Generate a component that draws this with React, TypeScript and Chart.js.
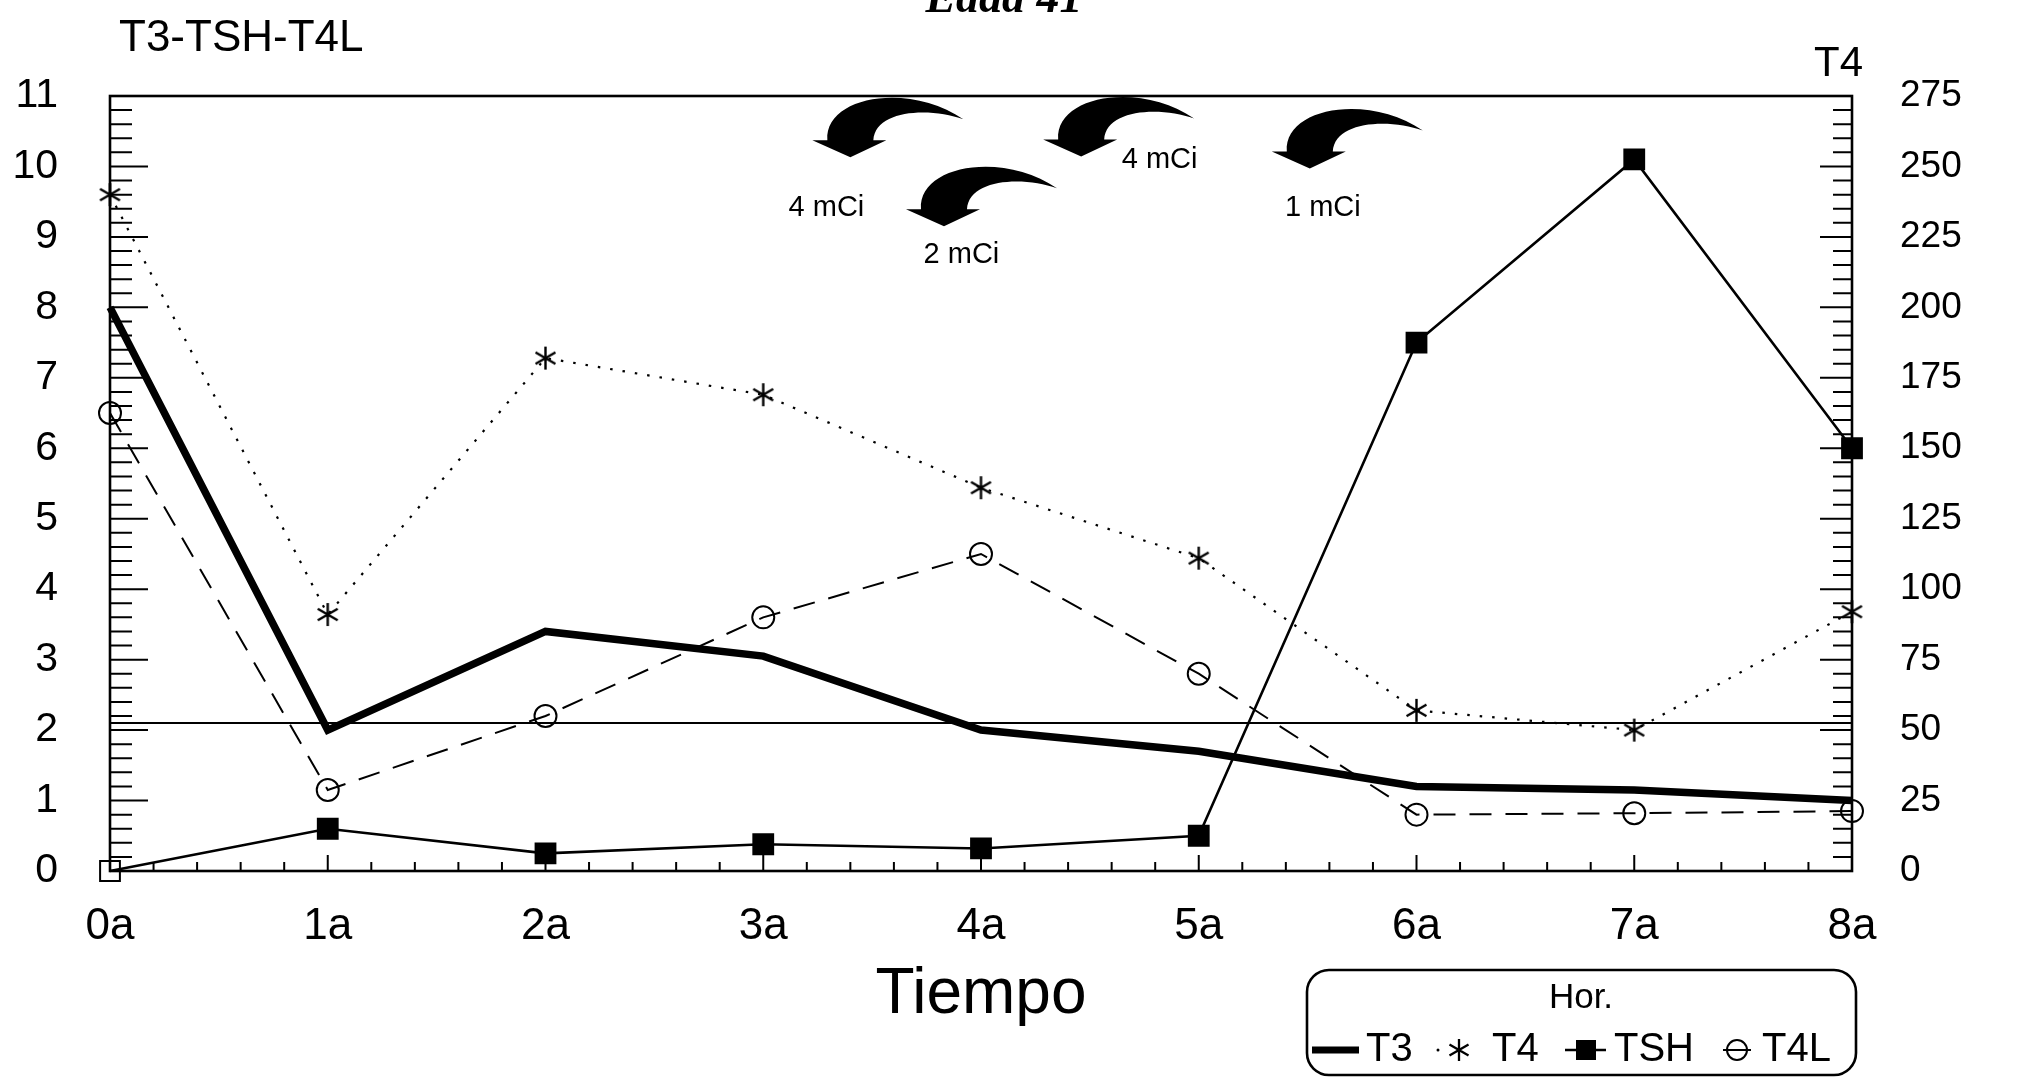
import React, { useEffect, useRef } from "react";
import { Chart, registerables } from "chart.js";

Chart.register(...registerables);

// ---------- data ----------
const categories = ["0a", "1a", "2a", "3a", "4a", "5a", "6a", "7a", "8a"];
const t3Values = [8.0, 2.0, 3.4, 3.05, 2.0, 1.7, 1.2, 1.15, 1.0];
const t4Values = [240, 91, 182, 169, 136, 111, 57, 50, 92];
const tshValues = [0, 0.6, 0.25, 0.38, 0.32, 0.5, 7.5, 10.1, 6.0];
const t4lValues = [6.5, 1.15, 2.2, 3.6, 4.5, 2.8, 0.8, 0.82, 0.85];
const refValues = [2.1, 2.1, 2.1, 2.1, 2.1, 2.1, 2.1, 2.1, 2.1];

const leftMin = 0;
const leftMax = 11;
const rightMin = 0;
const rightMax = 275;

// dose annotations (positions in data space: category index, left-axis value)
const doseLabels = ["4 mCi", "2 mCi", "4 mCi", "1 mCi"];
const doseArrowX = [3.4, 3.83, 4.46, 5.51];
const doseArrowY = [10.13, 9.15, 10.14, 9.97];
const doseLabelX = [3.29, 3.91, 4.82, 5.57];
const doseLabelY = [9.41, 8.74, 10.09, 9.41];

const FONT = "'Liberation Sans', Arial, Helvetica, sans-serif";

function makeAsterisk(size: number, lw: number): HTMLCanvasElement {
  const c = document.createElement("canvas");
  c.width = size;
  c.height = size;
  const g = c.getContext("2d")!;
  drawAsterisk(g, size / 2, size / 2, size / 2 - 1, lw);
  return c;
}

function drawAsterisk(g: CanvasRenderingContext2D, cx: number, cy: number, r: number, lw: number) {
  g.save();
  g.strokeStyle = "#000";
  g.lineWidth = lw;
  g.lineCap = "butt";
  g.beginPath();
  for (let k = 0; k < 3; k++) {
    const a = Math.PI / 2 + (k * Math.PI) / 3;
    g.moveTo(cx + Math.cos(a) * r, cy + Math.sin(a) * r);
    g.lineTo(cx - Math.cos(a) * r, cy - Math.sin(a) * r);
  }
  g.stroke();
  g.restore();
}

function drawCurvedArrow(ctx: CanvasRenderingContext2D, tx: number, ty: number) {
  ctx.beginPath();
  ctx.moveTo(tx, ty);
  ctx.lineTo(tx - 38, ty - 17);
  ctx.lineTo(tx - 23, ty - 17);
  ctx.bezierCurveTo(tx - 26, ty - 62, tx + 60, ty - 75, tx + 113, ty - 38);
  ctx.bezierCurveTo(tx + 80, ty - 50, tx + 25, ty - 48, tx + 23, ty - 17);
  ctx.lineTo(tx + 36, ty - 17);
  ctx.closePath();
  ctx.fill();
}

const framePlugin = {
  id: "frameTicks",
  beforeDatasetsDraw(chart: any) {
    const { ctx, chartArea: a, scales } = chart;
    const xs = scales.x;
    const yl = scales.y;
    const yr = scales.y1;
    ctx.save();
    ctx.strokeStyle = "#000";
    ctx.lineWidth = 2;
    ctx.beginPath();
    // left axis ticks every 0.2
    for (let i = 0; i <= leftMax * 5; i++) {
      const py = yl.getPixelForValue(i / 5);
      const len = i % 5 === 0 ? 38 : 22;
      ctx.moveTo(a.left, py);
      ctx.lineTo(a.left + len, py);
    }
    // right axis ticks every 5
    for (let v = rightMin; v <= rightMax; v += 5) {
      const py = yr.getPixelForValue(v);
      const len = v % 25 === 0 ? 32 : 19;
      ctx.moveTo(a.right - len, py);
      ctx.lineTo(a.right, py);
    }
    // x axis ticks: 5 per category interval
    for (let i = 0; i <= (categories.length - 1) * 5; i++) {
      const px = xs.getPixelForValue(i / 5);
      const len = i % 5 === 0 ? 16 : 9;
      ctx.moveTo(px, a.bottom);
      ctx.lineTo(px, a.bottom - len);
    }
    ctx.stroke();
    ctx.lineWidth = 2.6;
    ctx.strokeRect(a.left, a.top, a.right - a.left, a.bottom - a.top);
    ctx.restore();
  },
};

const annotPlugin = {
  id: "annotations",
  afterDraw(chart: any) {
    const { ctx, scales } = chart;
    const xs = scales.x;
    const yl = scales.y;
    ctx.save();
    ctx.fillStyle = "#000";
    ctx.strokeStyle = "#000";

    // titles
    ctx.textBaseline = "alphabetic";
    ctx.textAlign = "left";
    ctx.font = `44px ${FONT}`;
    ctx.fillText("T3-TSH-T4L", 119, 51);
    ctx.textAlign = "right";
    ctx.font = `42px ${FONT}`;
    ctx.fillText("T4", 1863, 76);
    ctx.textAlign = "center";
    ctx.font = `bold italic 46px 'Liberation Serif', 'Times New Roman', serif`;
    ctx.fillText("Edad 41", 1004, 12);

    // dose arrows + labels
    for (let i = 0; i < doseLabels.length; i++) {
      drawCurvedArrow(ctx, xs.getPixelForValue(doseArrowX[i]), yl.getPixelForValue(doseArrowY[i]));
    }
    ctx.font = `29px ${FONT}`;
    ctx.textAlign = "center";
    ctx.textBaseline = "middle";
    for (let i = 0; i < doseLabels.length; i++) {
      ctx.fillText(doseLabels[i], xs.getPixelForValue(doseLabelX[i]), yl.getPixelForValue(doseLabelY[i]));
    }

    // legend box
    const bx = 1307, by = 970, bw = 549, bh = 105, br = 22;
    ctx.lineWidth = 2.6;
    ctx.beginPath();
    ctx.roundRect(bx, by, bw, bh, br);
    ctx.stroke();
    ctx.font = `35px ${FONT}`;
    ctx.textAlign = "center";
    ctx.textBaseline = "middle";
    ctx.fillText("Hor.", 1581, 998);

    const ry = 1050;
    ctx.font = `40px ${FONT}`;
    ctx.textAlign = "left";
    // T3
    ctx.lineWidth = 7;
    ctx.beginPath();
    ctx.moveTo(1312, ry);
    ctx.lineTo(1359, ry);
    ctx.stroke();
    ctx.fillText("T3", 1366, ry);
    // T4
    ctx.beginPath();
    ctx.arc(1438, ry, 1.5, 0, Math.PI * 2);
    ctx.fill();
    drawAsterisk(ctx, 1459, ry, 11, 2.3);
    ctx.fillText("T4", 1492, ry);
    // TSH
    ctx.lineWidth = 2.5;
    ctx.beginPath();
    ctx.moveTo(1565, ry);
    ctx.lineTo(1606, ry);
    ctx.stroke();
    ctx.fillRect(1586 - 10, ry - 10, 20, 20);
    ctx.fillText("TSH", 1614, ry);
    // T4L
    ctx.lineWidth = 2;
    ctx.beginPath();
    ctx.moveTo(1723, ry);
    ctx.lineTo(1751, ry);
    ctx.stroke();
    ctx.beginPath();
    ctx.arc(1737, ry, 10, 0, Math.PI * 2);
    ctx.stroke();
    ctx.fillText("T4L", 1762, ry);

    ctx.restore();
  },
};

export default function App() {
  const canvasRef = useRef<HTMLCanvasElement | null>(null);

  useEffect(() => {
    document.body.style.margin = "0";
    const canvas = canvasRef.current;
    if (!canvas) return;
    const star = makeAsterisk(25, 2.4);

    const chart = new Chart(canvas, {
      type: "line",
      data: {
        labels: categories,
        datasets: [
          {
            label: "ref",
            data: refValues,
            yAxisID: "y",
            borderColor: "#000",
            borderWidth: 2,
            pointRadius: 0,
            fill: false,
            clip: false,
          } as any,
          {
            label: "T4L",
            data: t4lValues,
            yAxisID: "y",
            borderColor: "#000",
            borderWidth: 2,
            borderDash: [22, 14],
            pointStyle: "circle",
            pointRadius: 11,
            pointBorderWidth: 2,
            pointBorderColor: "#000",
            pointBackgroundColor: "rgba(0,0,0,0)",
            fill: false,
            clip: false,
          } as any,
          {
            label: "T4",
            data: t4Values,
            yAxisID: "y1",
            borderColor: "#000",
            borderWidth: 2.2,
            borderDash: [2.5, 10],
            pointStyle: star,
            pointRadius: 12,
            fill: false,
            clip: false,
          } as any,
          {
            label: "TSH",
            data: tshValues,
            yAxisID: "y",
            borderColor: "#000",
            borderWidth: 2.6,
            pointStyle: "rect",
            pointRadius: 14,
            pointBorderWidth: 2,
            pointBorderColor: "#000",
            pointBackgroundColor: ["rgba(0,0,0,0)", "#000", "#000", "#000", "#000", "#000", "#000", "#000", "#000"],
            fill: false,
            clip: false,
          } as any,
          {
            label: "T3",
            data: t3Values,
            yAxisID: "y",
            borderColor: "#000",
            borderWidth: 7.5,
            pointRadius: 0,
            fill: false,
            clip: false,
          } as any,
        ],
      },
      options: {
        responsive: false,
        animation: false,
        devicePixelRatio: 1,
        events: [],
        layout: { padding: { top: 96, left: 0, right: 0, bottom: 0 } },
        plugins: {
          legend: { display: false },
          tooltip: { enabled: false },
          title: { display: false },
        },
        scales: {
          x: {
            type: "category",
            offset: false,
            grid: { display: false, drawTicks: false },
            border: { display: false },
            ticks: {
              color: "#000",
              font: { family: FONT, size: 44 },
              padding: 29,
              maxRotation: 0,
              autoSkip: false,
            },
            title: {
              display: true,
              text: "Tiempo",
              color: "#000",
              font: { family: FONT, size: 64 },
              padding: { top: 0, bottom: 50 },
            },
            afterFit: (s: any) => {
              s.height = 213;
            },
          },
          y: {
            type: "linear",
            position: "left",
            min: leftMin,
            max: leftMax,
            grid: { display: false, drawTicks: false },
            border: { display: false },
            ticks: {
              stepSize: 1,
              color: "#000",
              font: { family: FONT, size: 41 },
              padding: 52,
            },
            afterFit: (s: any) => {
              s.width = 110;
            },
          },
          y1: {
            type: "linear",
            position: "right",
            min: rightMin,
            max: rightMax,
            grid: { display: false, drawTicks: false },
            border: { display: false },
            ticks: {
              stepSize: 25,
              color: "#000",
              font: { family: FONT, size: 37 },
              padding: 48,
            },
            afterFit: (s: any) => {
              s.width = 165;
            },
          },
        },
      },
      plugins: [framePlugin, annotPlugin],
    });

    return () => {
      chart.destroy();
    };
  }, []);

  return (
    <div style={{ position: "absolute", left: 0, top: 0, width: 2017, height: 1084, background: "#fff" }}>
      <canvas ref={canvasRef} width={2017} height={1084} style={{ display: "block" }} />
    </div>
  );
}
